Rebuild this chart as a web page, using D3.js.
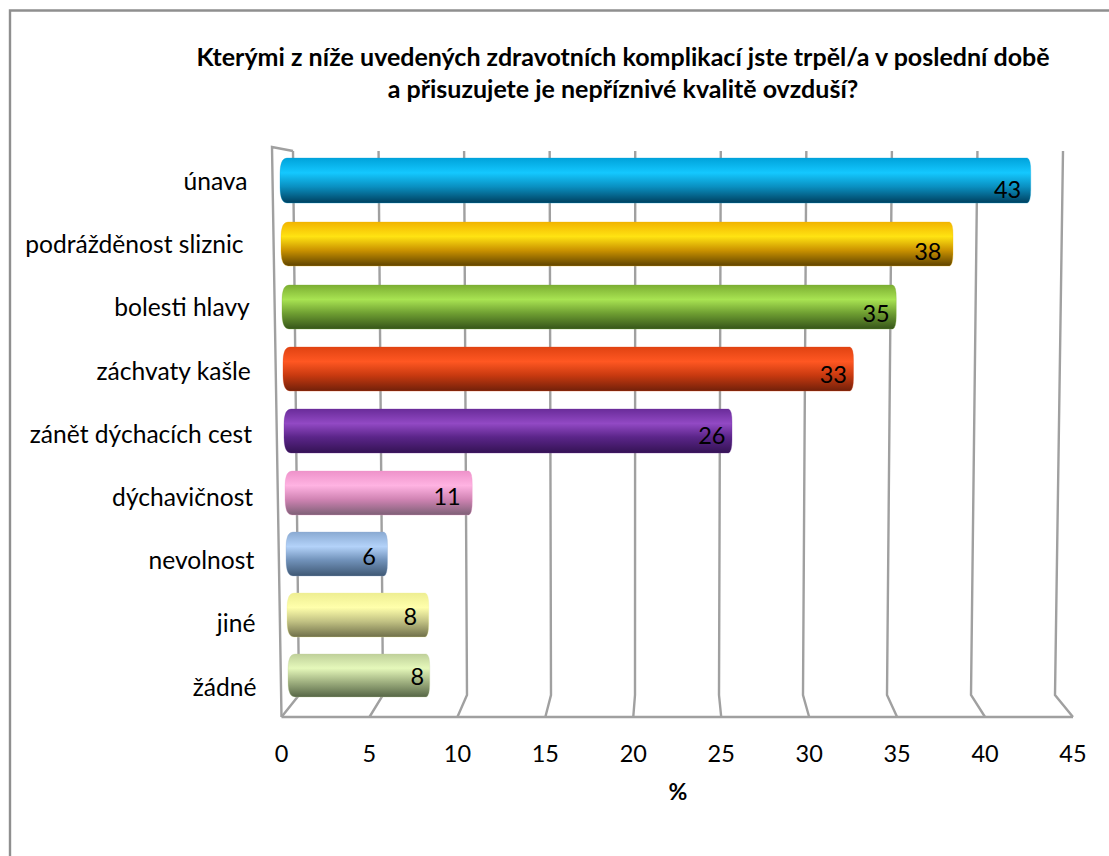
<!DOCTYPE html>
<html><head><meta charset="utf-8">
<script src="https://cdnjs.cloudflare.com/ajax/libs/d3/7.8.5/d3.min.js"></script>
<style>html,body{margin:0;padding:0;background:#fff}svg{display:block}text{font-family:Lato,"Open Sans",sans-serif;fill:#000}</style>
</head><body><svg id="c" width="1109" height="856"></svg>
<script>
const titleLines = ["Kterými z níže uvedených zdravotních komplikací jste trpěl/a v poslední době","a přisuzujete je nepříznivé kvalitě ovzduší?"];
const categories = ["únava ","podrážděnost sliznic ","bolesti hlavy","záchvaty kašle","zánět dýchacích cest","dýchavičnost","nevolnost","jiné","žádné"];
const values = [42.9,38.4,35.1,32.6,25.6,10.7,5.8,8.1,8.1];
const ticks = [0,5,10,15,20,25,30,35,40,45];
const axisTitle = "%";
const palette = [
 ["#00a2da","#14c8ff","#0a8fc0","#00405f"],
 ["#f2b400","#ffe312","#cb9300","#5f4300"],
 ["#7cae32","#a8e352","#6f9f32","#36551a"],
 ["#e04312","#ff5722","#c93a10","#72200a"],
 ["#6a2c9a","#9249c4","#5b2589","#341354"],
 ["#ee92ca","#ffb3e2","#d184b4","#7d6076"],
 ["#8aaad2","#b3d2f9","#7192ba","#3f5874"],
 ["#eeee92","#ffffab","#c3c384","#6f6f4a"],
 ["#bfd09a","#e5f8ba","#a2b382","#566646"]
];
// layout (pixels), kept apart from the data
const labelInset = [10,12,7,7,7,12,12,12,6];
const rowTops = [158,222,285,347,409,471,532,593,654];
const barHeights = [45,44,44,44,44,44,44,44,43];

const svg = d3.select("#c");
const W = 1109;
const xFront = d3.scaleLinear().domain([0,45]).range([281.5,1073]);
const xBackTop = d3.scaleLinear().domain([0,45]).range([293,1063]);
const xBackBot = d3.scaleLinear().domain([0,45]).range([299,1055]);
const yTop = 151, yBot = 695, yAxis = 717;
const barStart = d3.scaleLinear().domain([0,8]).range([280,288]);
const xLen = d3.scaleLinear().domain([0,45]).range([0,787.5]);

svg.append("path").attr("d",`M10,856V10.5H${W}`).attr("fill","none").attr("stroke","#8f8f8f").attr("stroke-width",2.4);

const grid = svg.append("g").attr("fill","none").attr("stroke","#a0a0a0").attr("stroke-width",2.4).attr("stroke-linejoin","miter");
grid.selectAll("path").data(ticks).join("path")
  .attr("d",t=>`M${xBackTop(t)},${yTop}L${xBackBot(t)},${yBot}L${xFront(t)},${yAxis}`);
grid.append("path").attr("d",`M${xFront(0)},${yAxis}H${xFront(45)}`);
grid.append("path").attr("d",`M${xFront(0)},${yAxis}L272,147L${xBackTop(0)},${yTop}`);

const defs = svg.append("defs");
palette.forEach((p,i)=>{
  const g = defs.append("linearGradient").attr("id","g"+i).attr("x1",0).attr("x2",0).attr("y1",0).attr("y2",1);
  [[0,p[0]],[0.33,p[1]],[0.64,p[2]],[1,p[3]]].forEach(s=>g.append("stop").attr("offset",s[0]).attr("stop-color",s[1]));
});
const barPath = (x0,x1,y,h)=>{
  const rl=7, rr=3.5;
  return `M${x0+rl},${y}H${x1-rr}Q${x1},${y+h*0.02} ${x1},${y+h*0.3}V${y+h*0.7}Q${x1},${y+h*0.98} ${x1-rr},${y+h}H${x0+rl}Q${x0},${y+h} ${x0},${y+h*0.65}V${y+h*0.35}Q${x0},${y} ${x0+rl},${y}Z`;
};
const bars = svg.append("g");
bars.selectAll("path").data(values).join("path")
  .attr("d",(v,i)=>barPath(barStart(i),barStart(i)+xLen(v),rowTops[i],barHeights[i]))
  .attr("fill",(v,i)=>`url(#g${i})`)
  .attr("stroke",(v,i)=>palette[i][0]).attr("stroke-opacity",0.3).attr("stroke-width",1);

const labelDrop = d3.scaleLinear().domain([0,8]).range([9,1.5]);
svg.append("g").selectAll("text").data(values).join("text")
  .attr("x",(v,i)=>barStart(i)+xLen(v)-labelInset[i]+0.5)
  .attr("y",(v,i)=>rowTops[i]+barHeights[i]/2+labelDrop(i)+8)
  .attr("text-anchor","end").attr("font-size",23.5)
  .text(v=>d3.format(".0f")(v));

const catRight = d3.scaleLinear().domain([0,8]).range([247.5,256.5]);
const catY = d3.scaleLinear().domain([0,8]).range([190,695.5]);
svg.append("g").selectAll("text").data(categories).join("text")
  .attr("x",(c,i)=>catRight(i)).attr("y",(c,i)=>catY(i))
  .attr("text-anchor","end").attr("font-size",24.6)
  .text(c=>c.trim()).attr("dx",(c,i)=>i===1?-5:0);

svg.append("g").selectAll("text").data(ticks).join("text")
  .attr("x",t=>xFront(t)).attr("y",761.5).attr("text-anchor","middle").attr("font-size",23.5).text(t=>t);

svg.append("g").selectAll("text").data(titleLines).join("text")
  .attr("x",623).attr("y",(d,i)=>66+i*32).attr("text-anchor","middle").attr("font-size",25).attr("font-weight",700).text(d=>d);
svg.append("text").attr("x",678).attr("y",799.5).attr("text-anchor","middle").attr("font-size",23).attr("font-weight",700).text(axisTitle);
</script></body></html>
